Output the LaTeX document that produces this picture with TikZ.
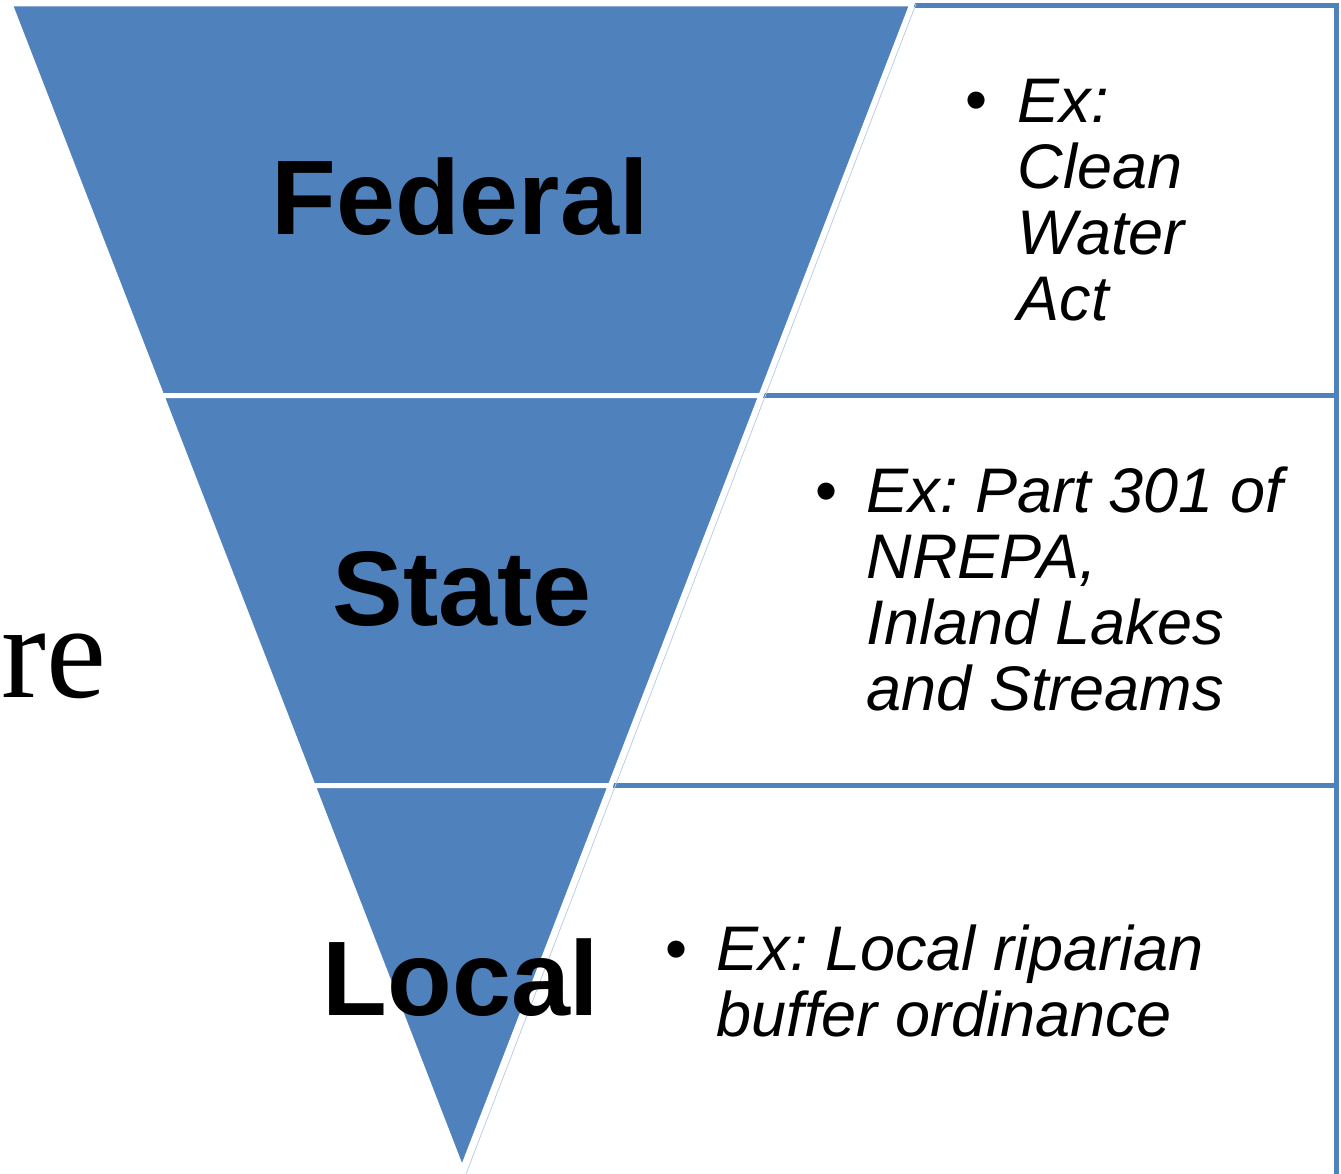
\documentclass[tikz,border=0pt]{standalone}
\usepackage{fontspec}
\usepackage{tikz}
\usetikzlibrary{positioning}
\newfontfamily\arialfont{Liberation Sans}
\newfontfamily\timesfont{Liberation Serif}
\definecolor{levelblue}{HTML}{4F81BD}
\frenchspacing
\tikzset{
    level/.style = {fill=levelblue, draw=white, line width=5, line join=miter},
    levelname/.style = {font=\arialfont\bfseries\fontsize{106}{110}\selectfont, inner sep=0, anchor=base},
    bullet/.style = {font=\arialfont\fontsize{63}{66}\selectfont, inner sep=0, anchor=base west},
    example/.style = {font=\arialfont\itshape\fontsize{63}{66}\selectfont, inner sep=0, align=left},
    boxline/.style = {draw=levelblue, line width=5}
}

\begin{document}
\begin{tikzpicture}[x=1pt, y=-1pt]
    \useasboundingbox (0,0) rectangle (1341,1174);
    % corners %
    \coordinate (tl) at (10,4);
    \coordinate (tr) at (912,4);
    \coordinate (fl) at (161.7,395.5);
    \coordinate (fr) at (761,395.5);
    \coordinate (sl) at (313,785.5);
    \coordinate (sr) at (610.4,785.5);
    \coordinate (apex) at (462,1170);
    % boxes %
    \draw[boxline] (914,5.5) -- (1336.5,5.5) -- (1336.5,1180);
    \draw[boxline] (763,395.5) -- (1336.5,395.5);
    \draw[boxline] (613,785.5) -- (1336.5,785.5);
    \draw[levelblue!40, line width=0.8] (916,4) -- (466,1174);
    % levels %
    \draw[level] (tl) -- (tr) -- (fr) -- (fl) -- cycle;
    \draw[level] (fl) -- (fr) -- (sr) -- (sl) -- cycle;
    \draw[level] (sl) -- (sr) -- (apex) -- cycle;
    % nodes %
    \node[levelname] (federal) at (460,235) {Federal};
    \node[levelname] (state) at (462,625) {State};
    \node[levelname] (local) at (461,1015) {Local};
    \node[font=\timesfont\fontsize{135}{140}\selectfont, inner sep=0, anchor=base west] (re) at (1,697) {re};
    \node[bullet] (bulletf) at (965,122) {•};
    \node[example, base right = 30 of bulletf, yshift=-198] (exf) {Ex:\\Clean\\Water\\Act};
    \node[bullet] (bullets) at (815,512) {•};
    \node[example, base right = 29 of bullets, yshift=-198] (exs) {Ex: Part 301 of\\NREPA,\\Inland Lakes\\and Streams};
    \node[bullet] (bulletl) at (665,970) {•};
    \node[example, base right = 29 of bulletl, yshift=-66] (exl) {Ex: Local riparian\\buffer ordinance};
\end{tikzpicture}
\end{document}
